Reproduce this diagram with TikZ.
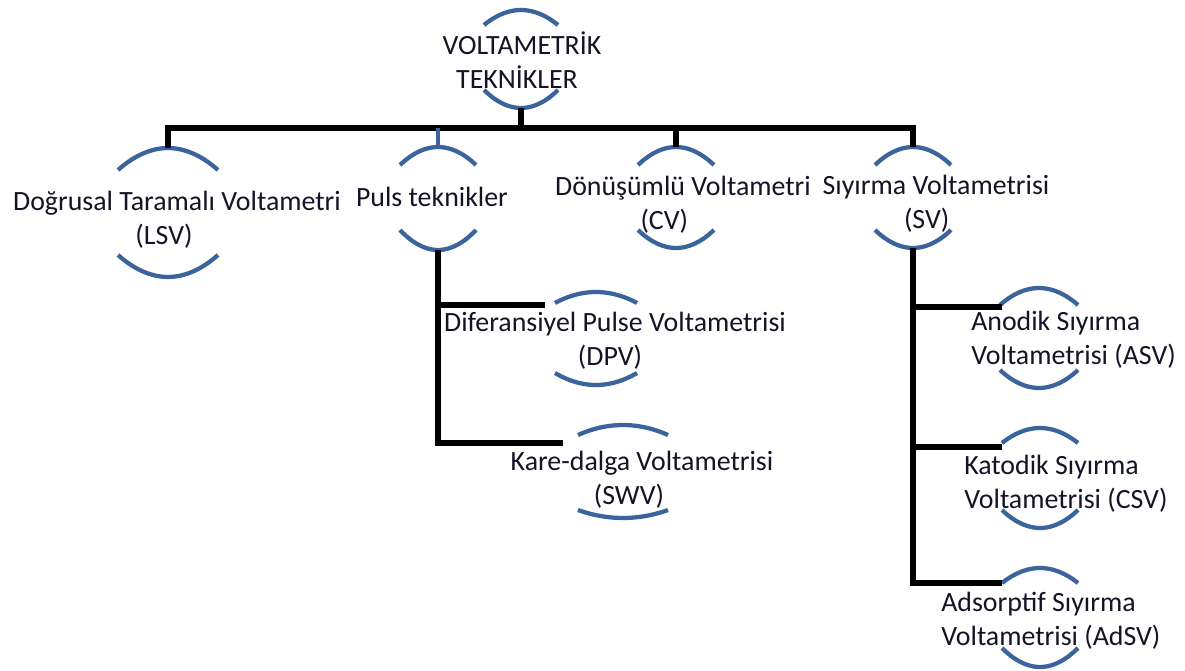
\documentclass[tikz,border=0pt]{standalone}
\usepackage{fontspec}
\setmainfont{Carlito}
\definecolor{arcblue}{RGB}{60,100,156}
\definecolor{inkc}{RGB}{20,20,38}
% trailing space that pulls a centred second line to the left
\newcommand\pull[1]{\hspace*{#1pt}}
% pair of arcs (above and below a label): cx, half width, top peak, top ends, bottom low point, bottom ends, name
\newcommand\arcpair[7]{%
  \draw[arcline] ({#1-#2},#4) parabola bend (#1,#3) ({#1+#2},#4);
  \draw[arcline] ({#1-#2},#6) parabola bend (#1,#5) ({#1+#2},#6);
  \coordinate (#7-t) at (#1,#3);
  \coordinate (#7-b) at (#1,#5);
}
\begin{document}
\begin{tikzpicture}[x=0.75pt,y=-0.75pt,
  lbl/.style={inner sep=0pt, text=inkc, font=\fontsize{20.9}{25.5}\selectfont, align=center},
  lblL/.style={lbl, align=left, anchor=west},
  conn/.style={line width=3.9pt, black, line join=miter},
  arcline/.style={line width=3.2pt, arcblue}]
\useasboundingbox[fill=white] (0,0) rectangle (1185,671);

% arcs round each label
\arcpair{521}{37}{10}{25}{108}{90}{root}
\arcpair{168}{50}{148}{170}{277}{255}{lsv}
\arcpair{438}{38}{147}{165}{250}{230}{puls}
\arcpair{676}{38}{147}{165}{248}{230}{cv}
\arcpair{913}{38}{147}{165}{248}{230}{sv}
\arcpair{596}{41}{292}{303}{385}{373}{dpv}
\arcpair{623}{45}{425}{435}{518}{510}{swv}
\arcpair{1039}{39}{288}{305}{388}{370}{asv}
\arcpair{1040}{38}{428}{443}{528}{510}{csv}
\arcpair{1040}{38}{568}{583}{667}{648}{adsv}

% labels
\node[lbl] (rootL) at (522,60) {VOLTAMETRİK\\TEKNİKLER\pull{7.5}};
\node[lbl] (lsvL) at (177,220) {Doğrusal Taramalı Voltametri\\(LSV)\pull{19.5}};
\node[lbl] (pulsL) at (432,197) {Puls teknikler};
\node[lbl] (cvL) at (683,205) {Dönüşümlü Voltametri\\(CV)\pull{28}};
\node[lbl] (svL) at (936,204) {Sıyırma Voltametrisi\\(SV)\pull{14}};
\node[lbl] (dpvL) at (615,341) {Diferansiyel Pulse Voltametrisi\\(DPV)\pull{7.5}};
\node[lbl] (swvL) at (642,480) {Kare-dalga Voltametrisi\\(SWV)\pull{19.5}};
\node[lblL] (asvL) at (971,340) {Anodik Sıyırma\\Voltametrisi (ASV)};
\node[lblL] (csvL) at (964,484) {Katodik Sıyırma\\Voltametrisi (CSV)};
\node[lblL] (adsvL) at (941,621) {Adsorptif Sıyırma\\Voltametrisi (AdSV)};

% bus line and branch ends
\coordinate (bus) at (0,128);
\coordinate (dpv-in) at (545,305);
\coordinate (swv-in) at (563,443);
\coordinate (asv-in) at (1002,307);
\coordinate (csv-in) at (1002,447);
\coordinate (adsv-in) at (1002,583);

% connectors
\draw[conn] (lsv-t) -- (lsv-t |- bus) -- (sv-t |- bus) -- (sv-t);
\draw[conn] (root-b) -- (root-b |- bus);
\draw[conn] (cv-t) -- (cv-t |- bus);
\draw[line width=3.2pt, arcblue] (puls-t) -- (puls-t |- bus);
\draw[conn] (puls-b) -- (puls-b |- swv-in) -- (swv-in);
\draw[conn] (puls-b |- dpv-in) -- (dpv-in);
\draw[conn] (sv-b) -- (sv-b |- adsv-in) -- (adsv-in);
\draw[conn] (sv-b |- asv-in) -- (asv-in);
\draw[conn] (sv-b |- csv-in) -- (csv-in);
\end{tikzpicture}
\end{document}
